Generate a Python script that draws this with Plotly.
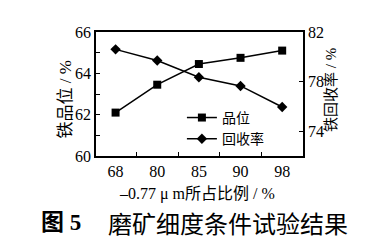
import plotly.graph_objects as go

categories = ["68", "80", "85", "90", "98"]
grade = [62.1, 63.45, 64.45, 64.75, 65.1]
recovery = [80.6, 79.7, 78.35, 77.65, 75.95]

serif = "Liberation Serif, Noto Sans CJK SC, serif"
cjk = "Liberation Serif, Noto Sans CJK SC, serif"

fig = go.Figure()
fig.add_trace(go.Scatter(x=categories, y=grade, name="品位", mode="lines+markers",
                         line=dict(color="black", width=1.5),
                         marker=dict(symbol="square", size=8, color="black")))
fig.add_trace(go.Scatter(x=categories, y=recovery, name="回收率", mode="lines+markers",
                         yaxis="y2",
                         line=dict(color="black", width=1.5),
                         marker=dict(symbol="diamond", size=8, color="black")))

fig.update_layout(
    width=374, height=244,
    margin=dict(l=96, r=71, t=32, b=88),
    plot_bgcolor="white", paper_bgcolor="white",
    showlegend=True,
    legend=dict(x=0.415, y=0.436, xanchor="left", yanchor="top",
                bgcolor="rgba(0,0,0,0)", font=dict(family=cjk, size=14, color="black"),
                itemwidth=30, tracegroupgap=0),
    xaxis=dict(type="category", range=[-0.47, 4.5], showline=True, linecolor="black",
               linewidth=1.5, mirror=True, ticks="inside", ticklen=4, tickson="boundaries",
               tickcolor="black", showgrid=False,
               tickfont=dict(family=serif, size=16, color="black")),
    yaxis=dict(range=[60, 66], dtick=2, showline=True, linecolor="black", linewidth=1.5,
               ticks="inside", ticklen=4, tickcolor="black", showgrid=False, zeroline=False,
               minor=dict(dtick=1, ticks="inside", ticklen=4, tickcolor="black"),
               tickfont=dict(family=serif, size=16, color="black")),
    yaxis2=dict(range=[72, 82], tickvals=[74, 78, 82], overlaying="y", side="right",
                showline=True, linecolor="black", linewidth=1.5,
                ticks="inside", ticklen=4, tickcolor="black", showgrid=False, zeroline=False,
                tickfont=dict(family=serif, size=16, color="black")),
    annotations=[
        dict(text="铁品位 / %", xref="paper", yref="paper", x=-0.203, y=0.46,
             textangle=-90, showarrow=False, font=dict(family=cjk, size=17, color="black")),
        dict(text="铁回收率 / %", xref="paper", yref="paper", x=1.18, y=0.535,
             textangle=-90, showarrow=False, font=dict(family=cjk, size=15, color="black")),
        dict(text="–0.77 μ m所占比例 / %", xref="paper", yref="paper", x=0.488, y=-0.31,
             yanchor="middle", showarrow=False, font=dict(family=cjk, size=16, color="black")),
        dict(text="<b>图 5</b>", xref="paper", yref="paper", x=-0.275, y=-0.54,
             xanchor="left", yanchor="middle", showarrow=False,
             font=dict(family="Liberation Serif, Noto Sans CJK SC", size=23, color="black")),
        dict(text="磨矿细度条件试验结果", xref="paper", yref="paper", x=0.05, y=-0.54,
             xanchor="left", yanchor="middle", showarrow=False,
             font=dict(family="Noto Sans CJK SC", size=24, color="black")),
    ],
)

fig.write_html("out.html")
